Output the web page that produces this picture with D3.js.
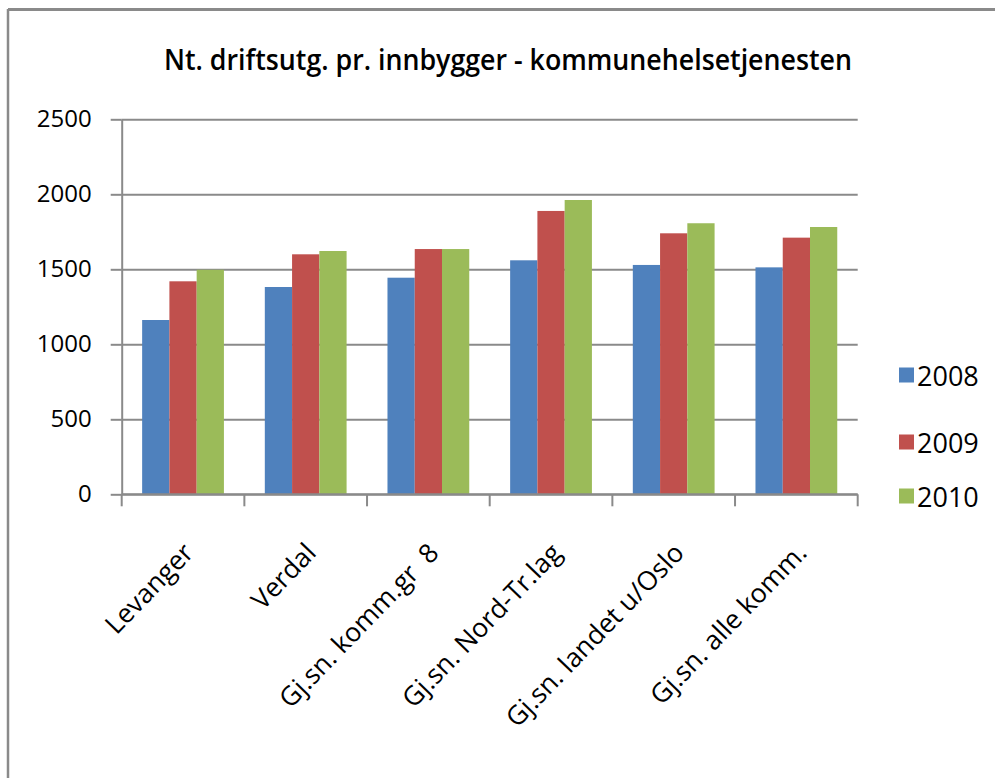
<!DOCTYPE html>
<html>
<head>
<meta charset="utf-8">
<script src="https://cdn.jsdelivr.net/npm/d3@7"></script>
<style>
  html, body { margin: 0; padding: 0; background: #fff; }
  svg { display: block; }
  text { font-family: "Open Sans", "Noto Sans", sans-serif; fill: #000; white-space: pre; }
</style>
</head>
<body>
<svg id="chart" width="995" height="778"></svg>
<script>
// Net operating expenditure per inhabitant, municipal health service
const categories = ["Levanger", "Verdal", "Gj.sn. komm.gr  8", "Gj.sn. Nord-Tr.lag", "Gj.sn. landet u/Oslo", "Gj.sn. alle komm."];
const seriesNames = ["2008", "2009", "2010"];
const values2008 = [1162, 1382, 1444, 1560, 1529, 1513];
const values2009 = [1420, 1600, 1635, 1889, 1740, 1711];
const values2010 = [1497, 1622, 1635, 1962, 1807, 1782];
const yTicks = [0, 500, 1000, 1500, 2000, 2500];
const colors = ["#4F81BD", "#C0504D", "#9BBB59"];
const title = "Nt. driftsutg. pr. innbygger - kommunehelsetjenesten";

const seriesValues = [values2008, values2009, values2010];

const svg = d3.select("#chart");
const plotLeft = 121.7, plotRight = 857.7, plotTop = 119.3, plotBottom = 494.3;
const gridColor = "#8a8a8a";

// Outer frame (top and left edges visible)
svg.append("line").attr("x1", 8).attr("x2", 995).attr("y1", 9.5).attr("y2", 9.5)
  .attr("stroke", "#8a8a8a").attr("stroke-width", 3);
svg.append("line").attr("x1", 8).attr("x2", 8).attr("y1", 9).attr("y2", 778)
  .attr("stroke", "#8a8a8a").attr("stroke-width", 2.5);

// Title, slightly condensed
svg.append("text")
  .attr("x", 508).attr("y", 70)
  .attr("text-anchor", "middle")
  .attr("textLength", 688)
  .attr("lengthAdjust", "spacingAndGlyphs")
  .style("font-size", "28px")
  .style("font-weight", 600)
  .text(title);

const x = d3.scaleBand().domain(categories).range([plotLeft, plotRight]).paddingInner(0).paddingOuter(0);
const x1 = d3.scaleBand().domain(seriesNames).range([0, x.bandwidth()]).paddingInner(0).paddingOuter(0.75);
const y = d3.scaleLinear().domain([0, 2500]).range([plotBottom, plotTop]);

// Horizontal gridlines
svg.append("g")
  .attr("transform", `translate(${plotLeft},0)`)
  .call(d3.axisLeft(y).tickValues(yTicks).tickSize(-(plotRight - plotLeft)).tickFormat(""))
  .call(g => g.select(".domain").remove())
  .call(g => g.selectAll("line").attr("stroke", gridColor).attr("stroke-width", 2));

// Y axis with outside tick marks and labels
svg.append("g")
  .attr("transform", `translate(${plotLeft},0)`)
  .call(d3.axisLeft(y).tickValues(yTicks).tickFormat(d3.format("d")).tickSize(11).tickPadding(19).tickSizeOuter(0))
  .call(g => g.select(".domain").attr("stroke", gridColor).attr("stroke-width", 2))
  .call(g => g.selectAll(".tick line").attr("stroke", gridColor).attr("stroke-width", 2))
  .call(g => g.selectAll(".tick text")
    .style("font-size", "24px")
    .style("font-family", "'Open Sans', sans-serif")
    .attr("fill", "#000"));

// Bars
const groups = svg.append("g").selectAll("g")
  .data(categories)
  .join("g")
  .attr("transform", d => `translate(${x(d)},0)`);

groups.selectAll("rect")
  .data((d, i) => seriesNames.map((s, j) => ({ s, v: seriesValues[j][i], j })))
  .join("rect")
  .attr("x", d => x1(d.s))
  .attr("width", x1.bandwidth())
  .attr("y", d => y(d.v))
  .attr("height", d => y(0) - y(d.v))
  .attr("fill", d => colors[d.j]);

// X axis line and category boundary ticks
const xAxisG = svg.append("g");
xAxisG.append("line")
  .attr("x1", plotLeft).attr("x2", plotRight)
  .attr("y1", y(0)).attr("y2", y(0))
  .attr("stroke", gridColor).attr("stroke-width", 2);
const boundaries = categories.map(c => x(c)).concat([x(categories[categories.length - 1]) + x.bandwidth()]);
xAxisG.selectAll("line.tick")
  .data(boundaries)
  .join("line")
  .attr("class", "tick")
  .attr("x1", d => d).attr("x2", d => d)
  .attr("y1", y(0)).attr("y2", y(0) + 12)
  .attr("stroke", gridColor).attr("stroke-width", 2);

// Rotated category labels
xAxisG.selectAll("text")
  .data(categories)
  .join("text")
  .attr("transform", d => `translate(${x(d) + x.bandwidth() / 2 + 12},${y(0) + 60}) rotate(-46)`)
  .attr("text-anchor", "end")
  .style("font-size", "26.5px")
  .text(d => d);

// Legend
const legendY = [375, 442, 496];
const legend = svg.append("g").selectAll("g")
  .data(seriesNames)
  .join("g")
  .attr("transform", (d, i) => `translate(899,${legendY[i]})`);
legend.append("rect")
  .attr("x", 0).attr("y", -7.5)
  .attr("width", 15).attr("height", 15)
  .attr("fill", (d, i) => colors[i]);
legend.append("text")
  .attr("x", 18).attr("y", 0)
  .attr("dominant-baseline", "central")
  .style("font-size", "27px")
  .text(d => d);
</script>
</body>
</html>
